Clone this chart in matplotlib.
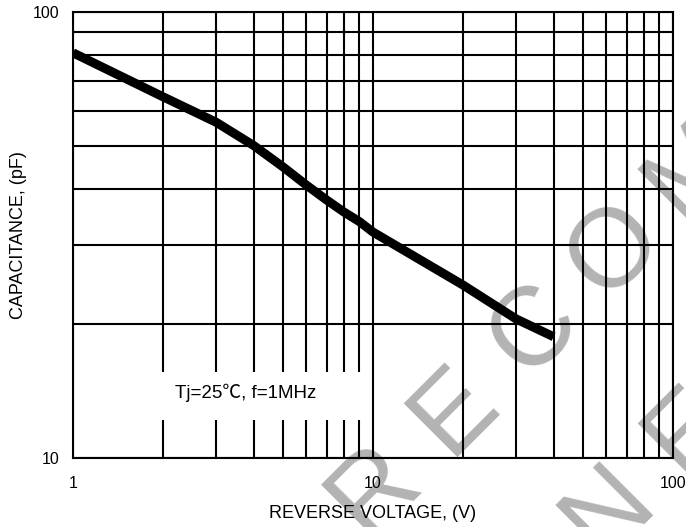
import matplotlib
matplotlib.use("Agg")
import matplotlib.pyplot as plt
from matplotlib.patches import Rectangle
from matplotlib.ticker import LogLocator, NullFormatter
import numpy as np

plt.rcParams['font.family'] = ['Liberation Sans', 'Noto Sans CJK SC', 'DejaVu Sans']

# capacitance vs reverse voltage
voltage = [1, 2, 3, 4, 5, 6, 7, 8, 9, 10, 20, 30, 40]
capacitance = [81, 64.5, 56.6, 50.2, 45, 40.9, 37.9, 35.6, 33.9, 32.1, 24.4, 20.5, 18.7]

x_ticks = [1, 10, 100]
y_ticks = [10, 100]
note = "Tj=25\u2103, f=1MHz"
watermark = ["NOT RECOMMENDED", "FOR NEW DESIGN"]

W, H = 686, 527
fig = plt.figure(figsize=(W / 100, H / 100), dpi=100)
ax = fig.add_axes([73 / W, 69 / H, 600 / W, 446 / H])
ax.set_zorder(1)
ax.patch.set_alpha(0)

# watermark behind everything, one letter at a time (letter-spaced);
# only the letters that land on the page are drawn
anchors = [(375, 490, 4), (609, 510, 4)]  # image px of the anchor letter centre, its index
step = 80
for line, (cx, cy, idx) in zip(watermark, anchors):
    for i, ch in enumerate(line):
        px = cx + (i - idx) * step
        py = (H - cy) + (i - idx) * step
        if ch == " " or not (-20 < px < W + 20 and -20 < py < H + 20):
            continue
        fig.text(px / W, py / H, ch, fontsize=80, color="#b3b3b3",
                 rotation=45, rotation_mode="anchor", ha="center", va="center",
                 zorder=0.5, family="Liberation Sans")

ax.plot(voltage, capacitance, color="black", lw=6.5, solid_capstyle="butt", zorder=3)

ax.set_xscale("log")
ax.set_yscale("log")
ax.set_xlim(1, 100)
ax.set_ylim(10, 100)
ax.set_xticks(x_ticks, labels=[str(t) for t in x_ticks])
ax.set_yticks(y_ticks, labels=[str(t) for t in y_ticks])
ax.xaxis.set_minor_locator(LogLocator(base=10, subs=np.arange(2, 10)))
ax.yaxis.set_minor_locator(LogLocator(base=10, subs=np.arange(2, 10)))
ax.xaxis.set_minor_formatter(NullFormatter())
ax.yaxis.set_minor_formatter(NullFormatter())

ax.grid(which="both", color="black", lw=1.5)
ax.set_axisbelow(True)
for s in ax.spines.values():
    s.set_linewidth(1.5)
ax.tick_params(which="both", length=0)
ax.tick_params(axis="x", pad=13, labelsize=11.5)
ax.tick_params(axis="y", pad=10, labelsize=11.5)

ax.set_xlabel("REVERSE VOLTAGE, (V)", fontsize=13, labelpad=10)
ax.set_ylabel("CAPACITANCE, (pF)", fontsize=13, labelpad=4)

# white label box over the grid
ax.add_patch(Rectangle((0.095, 0.085), 0.393, 0.108, transform=ax.transAxes,
                       facecolor="white", edgecolor="none", zorder=1.5))
ax.text(0.17, 0.146, note, transform=ax.transAxes, fontsize=13.5,
        ha="left", va="center", zorder=4)

fig.savefig("out.png", dpi=100)
